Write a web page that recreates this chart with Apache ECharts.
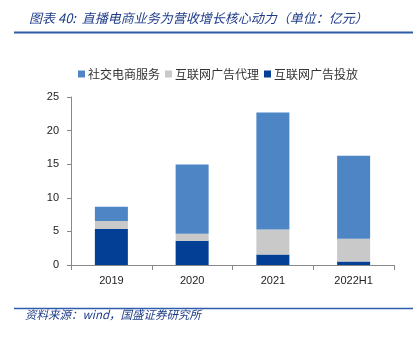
<!DOCTYPE html>
<html>
<head>
<meta charset="utf-8">
<script src="https://cdn.jsdelivr.net/npm/echarts@6/dist/echarts.min.js"></script>
<style>
html,body{margin:0;padding:0;background:#fff;}
#chart{width:413px;height:337px;}
</style>
</head>
<body>
<div id="chart"></div>
<script>
// 直播电商业务营收构成（单位：亿元）
const categories = ['2019', '2020', '2021', '2022H1'];
const socialEcommerce = [2.1, 10.3, 17.4, 12.35];   // 社交电商服务
const adAgency = [1.2, 1.05, 3.75, 3.4];            // 互联网广告代理
const adPlacement = [5.35, 3.6, 1.55, 0.52];        // 互联网广告投放
const yTicks = [0, 5, 10, 15, 20, 25];

const titleText = '图表 40:  直播电商业务为营收增长核心动力（单位：亿元）';
const sourceText = '资料来源：wind，国盛证券研究所';

const chart = echarts.init(document.getElementById('chart'));
const cjk = '"Noto Sans CJK SC", "Noto Sans", sans-serif';
const latin = '"Liberation Sans", Arial, sans-serif';

chart.setOption({
  animation: false,
  backgroundColor: '#fff',
  title: {
    text: titleText,
    left: 24, top: 7,
    textStyle: { fontFamily: cjk, fontSize: 13, fontWeight: 'normal', fontStyle: 'italic', color: '#1F3C88' }
  },
  graphic: [
    { type: 'line', shape: { x1: 14, y1: 32.5, x2: 413, y2: 32.5 }, style: { stroke: '#2E5BAA', lineWidth: 2 } },
    { type: 'line', shape: { x1: 14, y1: 308.5, x2: 413, y2: 308.5 }, style: { stroke: '#2E5BAA', lineWidth: 1.5 } },
    { type: 'text', left: 25, top: 309, style: { text: sourceText, font: 'italic 11.5px ' + cjk, fill: '#1F3C88' } }
  ],
  legend: {
    top: 63, left: 73,
    itemWidth: 7, itemHeight: 7, itemGap: 5,
    textStyle: { fontFamily: cjk, fontSize: 12, color: '#333', padding: [0, 0, 0, -2] },
    data: ['社交电商服务', '互联网广告代理', '互联网广告投放'],
    icon: 'rect'
  },
  grid: { left: 71, right: 19, top: 97, bottom: 72 },
  xAxis: {
    type: 'category',
    data: categories,
    axisLine: { lineStyle: { color: '#888' } },
    axisTick: { show: true, alignWithLabel: false, lineStyle: { color: '#888' } },
    axisLabel: { fontFamily: latin, fontSize: 11, color: '#222', margin: 10 }
  },
  yAxis: {
    type: 'value',
    min: yTicks[0], max: yTicks[yTicks.length - 1], interval: 5,
    axisLine: { show: true, lineStyle: { color: '#888' } },
    axisTick: { show: true, length: 4, inside: false, lineStyle: { color: '#888' } },
    splitLine: { show: false },
    axisLabel: { fontFamily: latin, fontSize: 11, color: '#222', margin: 12 }
  },
  series: [
    { name: '互联网广告投放', type: 'bar', stack: 'rev', barWidth: 33, data: adPlacement, itemStyle: { color: '#033F94' } },
    { name: '互联网广告代理', type: 'bar', stack: 'rev', barWidth: 33, data: adAgency, itemStyle: { color: '#C9C9C9' } },
    { name: '社交电商服务', type: 'bar', stack: 'rev', barWidth: 33, data: socialEcommerce, itemStyle: { color: '#4E85C5' } }
  ]
});
</script>
</body>
</html>
